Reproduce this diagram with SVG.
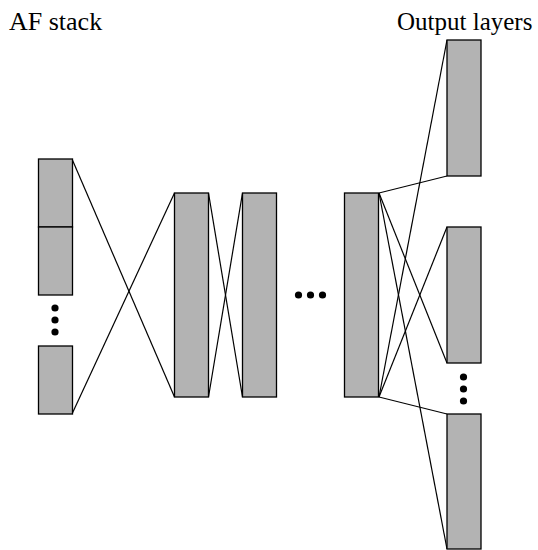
<svg xmlns="http://www.w3.org/2000/svg" width="538" height="550" viewBox="0 0 538 550">
<style>
.box{fill:#b3b3b3;stroke:#000;stroke-width:1.3}
.ln{stroke:#000;stroke-width:1.2;fill:none}
.dot{fill:#000}
.lbl{font-family:"Liberation Serif","Times New Roman",serif;font-size:25px;fill:#000}
</style>
<rect width="538" height="550" fill="#fff"/>
<text class="lbl" x="9" y="30" style="font-size:26px">AF stack</text>
<text class="lbl" x="397" y="30">Output layers</text>
<g id="connectors">
<line class="ln" x1="72" y1="159" x2="174.5" y2="397"/>
<line class="ln" x1="72" y1="414" x2="174.5" y2="193"/>
<line class="ln" x1="208.5" y1="193" x2="242.5" y2="397"/>
<line class="ln" x1="208.5" y1="397" x2="242.5" y2="193"/>
<line class="ln" x1="379" y1="193" x2="447" y2="176"/>
<line class="ln" x1="379" y1="397" x2="447" y2="40"/>
<line class="ln" x1="379" y1="193" x2="447" y2="363"/>
<line class="ln" x1="379" y1="397" x2="447" y2="227"/>
<line class="ln" x1="379" y1="193" x2="447" y2="549"/>
<line class="ln" x1="379" y1="397" x2="447" y2="414"/>
</g>
<g id="af-stack">
<rect class="box" x="38.5" y="159" width="34" height="68"/>
<rect class="box" x="38.5" y="227" width="34" height="68"/>
<circle class="dot" cx="55" cy="308" r="3.6"/>
<circle class="dot" cx="55" cy="320" r="3.6"/>
<circle class="dot" cx="55" cy="332" r="3.6"/>
<rect class="box" x="38.5" y="346" width="34" height="68"/>
</g>
<g id="layer1"><rect class="box" x="174.5" y="193" width="34" height="204"/></g>
<g id="layer2"><rect class="box" x="242.5" y="193" width="34" height="204"/></g>
<g id="ellipsis">
<circle class="dot" cx="298.5" cy="295" r="3.6"/>
<circle class="dot" cx="310.5" cy="295" r="3.6"/>
<circle class="dot" cx="322.5" cy="295" r="3.6"/>
</g>
<g id="layer3"><rect class="box" x="344.5" y="193" width="34" height="204"/></g>
<g id="output1"><rect class="box" x="447" y="40" width="34" height="136"/></g>
<g id="output2"><rect class="box" x="447" y="227" width="34" height="136"/></g>
<g id="output-dots">
<circle class="dot" cx="463.5" cy="377" r="3.6"/>
<circle class="dot" cx="463.5" cy="389" r="3.6"/>
<circle class="dot" cx="463.5" cy="401" r="3.6"/>
</g>
<g id="output3"><rect class="box" x="447" y="414" width="34" height="135"/></g>
</svg>
